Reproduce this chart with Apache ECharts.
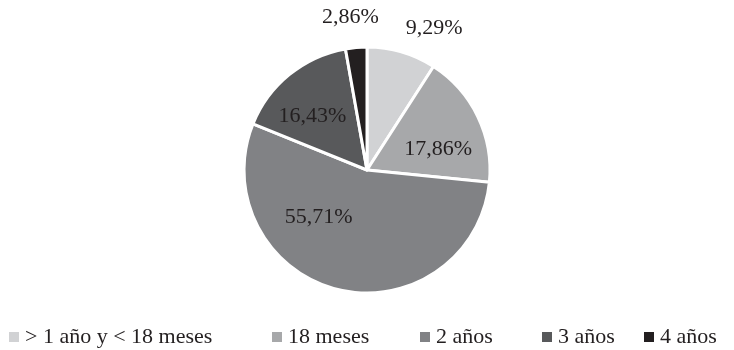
<!DOCTYPE html>
<html>
<head>
<meta charset="utf-8">
<script src="https://cdn.jsdelivr.net/npm/echarts@6/dist/echarts.min.js"></script>
<style>
  html, body { margin: 0; padding: 0; background: #fff; }
  #chart { width: 734px; height: 350px; }
</style>
</head>
<body>
<div id="chart"></div>
<script>
// Duración (categorías) y porcentaje de casos
const categories = ['> 1 año y < 18 meses', '18 meses', '2 años', '3 años', '4 años'];
const percentages = [9.29, 17.86, 55.71, 16.43, 2.86];

// Tonos de gris por categoría
const sliceColors = ['#d1d2d4', '#a7a8aa', '#818285', '#58595b', '#231f20'];
// Desplazamiento de cada etiqueta respecto a su posición interior por defecto
const labelNudge = [[49, -80], [13, 7], [-33, -15], [-14, -4], [-11, -89]];
// Posición horizontal de cada entrada de la leyenda
const legendLeft = [7, 270, 418, 540, 642];

const FONT = '"Liberation Serif", "Times New Roman", serif';
const TEXT = '#231f20';

const chart = echarts.init(document.getElementById('chart'), null, { renderer: 'canvas' });

const legends = categories.map((name, i) => ({
  data: [name],
  left: legendLeft[i],
  top: 326,
  orient: 'horizontal',
  icon: 'rect',
  itemWidth: 12,
  itemHeight: 12,
  itemGap: 0,
  padding: 0,
  selectedMode: false,
  textStyle: { fontFamily: FONT, fontSize: 22, lineHeight: 22, color: TEXT }
}));

chart.setOption({
  animation: false,
  backgroundColor: '#ffffff',
  legend: legends,
  series: [{
    type: 'pie',
    center: [367, 170],
    radius: 123,
    startAngle: 90,
    clockwise: true,
    data: categories.map((name, i) => ({
      name: name,
      value: percentages[i],
      itemStyle: { color: sliceColors[i] }
    })),
    itemStyle: { borderColor: '#ffffff', borderWidth: 3 },
    label: {
      show: true,
      position: 'inside',
      fontFamily: FONT,
      fontSize: 22,
      color: TEXT,
      formatter: p => p.value.toFixed(2).replace('.', ',') + '%'
    },
    labelLine: { show: false },
    labelLayout: p => ({ dx: labelNudge[p.dataIndex][0], dy: labelNudge[p.dataIndex][1] }),
    emphasis: { disabled: true }
  }]
});
</script>
</body>
</html>
